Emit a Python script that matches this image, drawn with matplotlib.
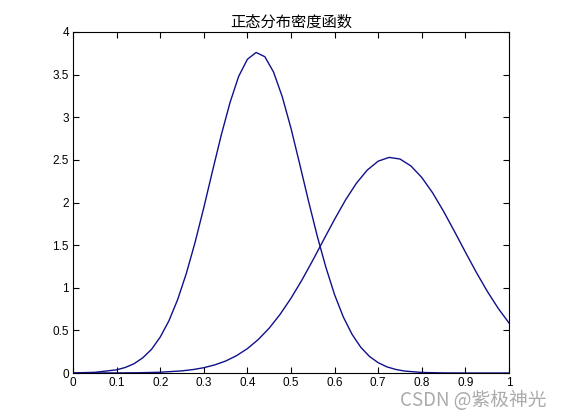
import matplotlib
matplotlib.use("Agg")
import matplotlib.pyplot as plt

plt.rcParams['font.family'] = ['Noto Sans CJK SC', 'DejaVu Sans']

# Values
x1 = [0.0, 0.05, 0.1, 0.12, 0.14, 0.16, 0.18, 0.2, 0.22, 0.24, 0.26, 0.28,
      0.3, 0.32, 0.34, 0.36, 0.38, 0.4, 0.42, 0.44, 0.46, 0.48, 0.5, 0.52,
      0.54, 0.56, 0.58, 0.6, 0.62, 0.64, 0.66, 0.68, 0.7, 0.72, 0.74, 0.76,
      0.8, 0.85, 0.9, 1.0]
y1 = [0.001, 0.008, 0.037, 0.065, 0.109, 0.178, 0.277, 0.421, 0.612, 0.861, 1.169, 1.533,
      1.94, 2.37, 2.79, 3.17, 3.48, 3.68, 3.76, 3.71, 3.53, 3.24, 2.87, 2.45,
      2.02, 1.61, 1.24, 0.918, 0.657, 0.454, 0.302, 0.194, 0.121, 0.072, 0.042, 0.023,
      0.0065, 0.001, 0.0, 0.0]

x2 = [0.0, 0.1, 0.15, 0.2, 0.25, 0.275, 0.3, 0.325, 0.35, 0.375, 0.4, 0.425,
      0.45, 0.475, 0.5, 0.525, 0.55, 0.575, 0.6, 0.625, 0.65, 0.675, 0.7, 0.725,
      0.75, 0.775, 0.8, 0.825, 0.85, 0.875, 0.9, 0.925, 0.95, 0.975, 1.0]
y2 = [0.0, 0.001, 0.003, 0.009, 0.025, 0.040, 0.062, 0.095, 0.140, 0.203, 0.286, 0.393,
      0.526, 0.688, 0.877, 1.09, 1.322, 1.564, 1.803, 2.029, 2.226, 2.381, 2.485, 2.529,
      2.51, 2.429, 2.293, 2.112, 1.896, 1.66, 1.418, 1.181, 0.96, 0.76, 0.587]

xticks = [0, 0.1, 0.2, 0.3, 0.4, 0.5, 0.6, 0.7, 0.8, 0.9, 1]
xticklabels = ['0', '0.1', '0.2', '0.3', '0.4', '0.5', '0.6', '0.7', '0.8', '0.9', '1']
yticks = [0, 0.5, 1, 1.5, 2, 2.5, 3, 3.5, 4]
yticklabels = ['0', '0.5', '1', '1.5', '2', '2.5', '3', '3.5', '4']

fig = plt.figure(figsize=(5.61, 4.2), dpi=100)
ax = fig.add_axes([73/561, 1 - 373/420, (509-73)/561, (373-32)/420])

line_color = '#10108a'
ax.plot(x1, y1, color=line_color, lw=1.0)
ax.plot(x2, y2, color=line_color, lw=1.0)

ax.set_xlim(0, 1)
ax.set_ylim(0, 4)
ax.set_xticks(xticks)
ax.set_xticklabels(xticklabels)
ax.set_yticks(yticks)
ax.set_yticklabels(yticklabels)
ax.tick_params(direction='in', top=True, right=True, length=4, width=0.8,
               labelsize=8.5, pad=3)
for lab in ax.get_xticklabels() + ax.get_yticklabels():
    lab.set_family(['Liberation Sans'])
for s in ax.spines.values():
    s.set_linewidth(0.8)

ax.set_title('正态分布密度函数', fontsize=11, pad=4)

fig.text(546/561, 1 - 400/420, 'CSDN @紫极神光', ha='right', va='center',
         fontsize=13.5, color='#ababab')

fig.savefig('out.png', dpi=100)
